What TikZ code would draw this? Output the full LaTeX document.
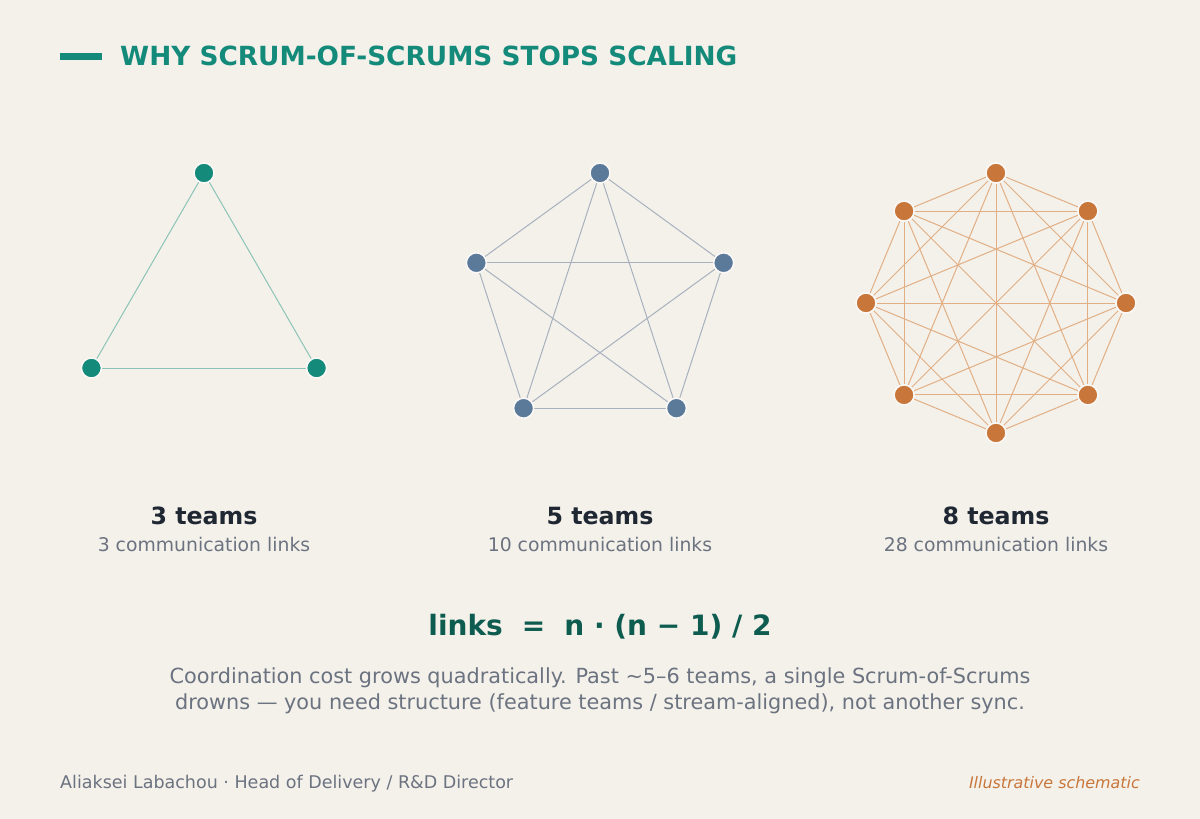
\documentclass[tikz,border=0pt]{standalone}
\usepackage{fontspec}
\setmainfont{DejaVu Sans}
\usetikzlibrary{calc}
\definecolor{bg}{HTML}{F4F1EA}
\definecolor{teal}{HTML}{148A7A}
\definecolor{slate}{HTML}{5B7A9A}
\definecolor{orng}{HTML}{C8763A}
\definecolor{dark}{HTML}{1F2733}
\definecolor{txtgray}{HTML}{6B7280}
\definecolor{formula}{HTML}{0E5C50}
\definecolor{tealedge}{HTML}{8CC3B8}
\definecolor{slateedge}{HTML}{A7B1BE}
\definecolor{orngedge}{HTML}{E2AE84}
\pgfdeclarelayer{bglayer}
\pgfdeclarelayer{edges}
\pgfsetlayers{bglayer,edges,main}
\begin{document}
\begin{tikzpicture}[x=1pt,y=-1pt,
  dot/.style={circle,inner sep=0pt,minimum size=20pt,draw=bg!40!white,line width=1.5pt},
  teamlbl/.style={anchor=base,font=\bfseries\fontsize{23.7}{28}\selectfont,text=dark},
  sublbl/.style={anchor=base,font=\fontsize{18.8}{22}\selectfont,text=txtgray},
  para/.style={anchor=base,font=\fontsize{20.8}{24}\selectfont,text=txtgray}]
\begin{pgfonlayer}{bglayer}
\fill[bg] (0,0) rectangle (1200,819);
\end{pgfonlayer}
\useasboundingbox (0,0) rectangle (1200,819);

% title
\node[fill=teal,inner sep=0pt,minimum width=42pt,minimum height=7pt] (bar) at (81,56.5) {};
\node[anchor=base west,inner sep=0pt,font=\bfseries\fontsize{26.35}{30}\selectfont,text=teal] (title) at (120,65) {WHY SCRUM-OF-SCRUMS STOPS SCALING};

% triangle
\foreach \k in {0,1,2}{
  \pgfmathsetmacro\a{90+120*\k}
  \node[dot,fill=teal] (a\k) at ({204+130*cos(\a)},{303-130*sin(\a)}) {};
}
% pentagon
\foreach \k in {0,...,4}{
  \pgfmathsetmacro\a{90+72*\k}
  \node[dot,fill=slate] (b\k) at ({600+130*cos(\a)},{303-130*sin(\a)}) {};
}
% octagon
\foreach \k in {0,...,7}{
  \pgfmathsetmacro\a{90+45*\k}
  \node[dot,fill=orng] (c\k) at ({996+130*cos(\a)},{303-130*sin(\a)}) {};
}

\begin{pgfonlayer}{edges}
\foreach \i in {0,...,2}{\foreach \j in {0,...,2}{\ifnum\i<\j \draw[tealedge,line width=1pt] (a\i) -- (a\j);\fi}}
\foreach \i in {0,...,4}{\foreach \j in {0,...,4}{\ifnum\i<\j \draw[slateedge,line width=1pt] (b\i) -- (b\j);\fi}}
\foreach \i in {0,...,7}{\foreach \j in {0,...,7}{\ifnum\i<\j \draw[orngedge,line width=1pt] (c\i) -- (c\j);\fi}}
\end{pgfonlayer}

% labels
\node[teamlbl] (t3) at (204,524) {3 teams};
\node[sublbl] (s3) at (204,551) {3 communication links};
\node[teamlbl] (t5) at (600,524) {5 teams};
\node[sublbl] (s5) at (600,551) {10 communication links};
\node[teamlbl] (t8) at (996,524) {8 teams};
\node[sublbl] (s8) at (996,551) {28 communication links};

% formula
\node[anchor=base,font=\bfseries\fontsize{28}{32}\selectfont,text=formula] (f) at (600,635) {links\hspace{0.68em}=\hspace{0.68em}n · (n − 1) / 2};

\node[para] (p1) at (600,683) {Coordination cost grows quadratically. Past \char"007E 5–6 teams, a single Scrum-of-Scrums};
\node[para] (p2) at (600,709) {drowns — you need structure (feature teams / stream-aligned), not another sync.};

% footer
\node[anchor=base west,inner sep=0pt,font=\fontsize{17.5}{20}\selectfont,text=txtgray] (auth) at (60,788) {Aliaksei Labachou · Head of Delivery / R\&D Director};
\node[anchor=base east,inner sep=0pt,font=\itshape\fontsize{15.9}{18}\selectfont,text=orng] (ill) at (1140,788) {Illustrative schematic};
\end{tikzpicture}
\end{document}
